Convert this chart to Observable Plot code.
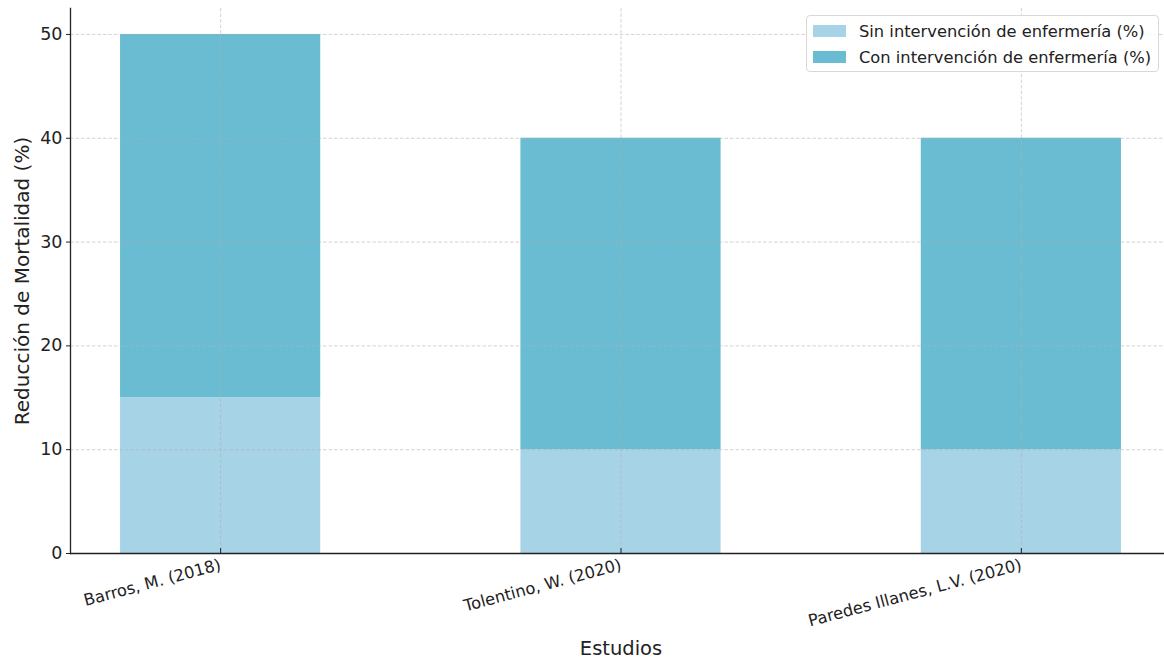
<!DOCTYPE html>
<html>
<head>
<meta charset="utf-8">
<script src="https://cdn.jsdelivr.net/npm/d3@7"></script>
<script src="https://cdn.jsdelivr.net/npm/@observablehq/plot@0.6"></script>
<style>
  html, body { margin: 0; padding: 0; background: #fff; overflow: hidden; }
  #wrap { position: relative; width: 1164px; height: 659px; font-family: "DejaVu Sans", sans-serif; }
  #legend { position: absolute; left: 806px; top: 15px; width: 353px; height: 57px;
    border: 1px solid #d8d8d8; border-radius: 4px; background: rgba(255,255,255,0.85);
    box-sizing: border-box; font-size: 16.3px; color: #222; }
  .row { position: absolute; left: 6px; display: flex; align-items: center; height: 20px; }
  .sw { width: 33px; height: 12px; margin-right: 13px; }
</style>
</head>
<body>
<div id="wrap"></div>
<script>
const estudios = ["Barros, M. (2018)", "Tolentino, W. (2020)", "Paredes Illanes, L.V. (2020)"];
const series = ["Sin intervención de enfermería (%)", "Con intervención de enfermería (%)"];
const sinIntervencion = [15, 10, 10];
const conIntervencion = [35, 30, 30]; // stacked on top: totals 50, 40, 40
const colores = ["#a7d3e7", "#6abcd3"];
const yTicks = [0, 10, 20, 30, 40, 50];

const rows = [];
estudios.forEach((e, i) => {
  rows.push({estudio: e, serie: series[0], valor: sinIntervencion[i]});
  rows.push({estudio: e, serie: series[1], valor: conIntervencion[i]});
});

const grid = {stroke: "#b0b0b0", strokeOpacity: 0.7, strokeDasharray: "3.5,2", strokeWidth: 0.8};

const chart = Plot.plot({
  width: 1164,
  height: 659,
  marginLeft: 70,
  marginRight: -7,
  marginTop: 8,
  marginBottom: 106,
  style: {fontFamily: "DejaVu Sans, sans-serif", color: "#222", background: "#fff", overflow: "hidden"},
  x: {type: "band", domain: estudios, paddingInner: 0.5, paddingOuter: 0.125, round: false},
  y: {type: "linear", domain: [0, 52.5]},
  color: {domain: series, range: colores},
  marks: [
    Plot.barY(rows, Plot.stackY({x: "estudio", y: "valor", fill: "serie"})),
    Plot.gridX(estudios, {...grid}),
    Plot.gridY(yTicks, {...grid}),
    Plot.axisY(yTicks, {tickSize: 4, tickPadding: 4, fontSize: 17.5, label: null, stroke: "#222"}),
    Plot.axisX({tickSize: 0, tickRotate: -15, tickPadding: 11, fontSize: 16.3, label: null}),
    Plot.ruleX(estudios, {x: d => d, y1: 0, y2: 0, insetTop: -5, stroke: "#222", strokeWidth: 1}),
    Plot.ruleY([0], {stroke: "#222", strokeWidth: 1.3}),
    Plot.frame({anchor: "left", stroke: "#222", strokeWidth: 1.3}),
    Plot.text(["Reducción de Mortalidad (%)"], {frameAnchor: "left", textAnchor: "middle", dx: -48, rotate: -90, fontSize: 20, fill: "#222"}),
    Plot.text(["Estudios"], {frameAnchor: "bottom", dy: 101, fontSize: 19.5, fill: "#222"})
  ]
});

document.getElementById("wrap").appendChild(chart);

const legend = document.createElement("div");
legend.id = "legend";
series.forEach((s, i) => {
  const r = document.createElement("div");
  r.className = "row";
  r.style.top = (5 + i * 26) + "px";
  const sw = document.createElement("div");
  sw.className = "sw";
  sw.style.background = colores[i];
  const t = document.createElement("span");
  t.textContent = s;
  r.appendChild(sw); r.appendChild(t);
  legend.appendChild(r);
});
document.getElementById("wrap").appendChild(legend);
</script>
</body>
</html>
